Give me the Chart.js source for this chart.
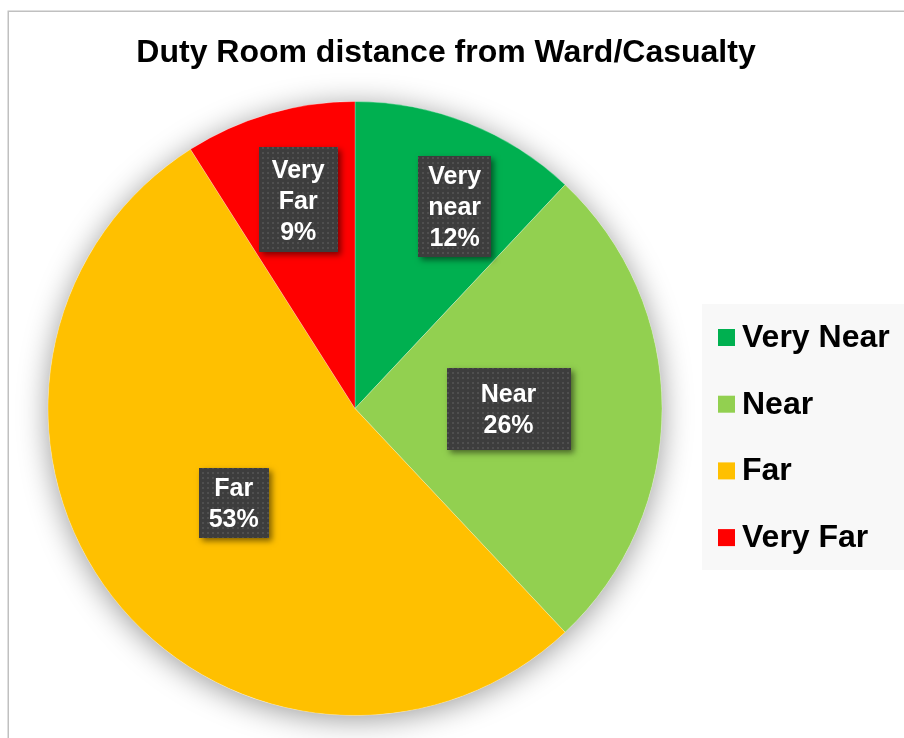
<!DOCTYPE html>
<html>
<head>
<meta charset="utf-8">
<script src="https://cdn.jsdelivr.net/npm/chart.js@4.4.1/dist/chart.umd.min.js"></script>
<style>
  html, body { margin: 0; padding: 0; background: #ffffff; }
  #wrap { position: relative; width: 904px; height: 738px; overflow: hidden; }
  canvas { display: block; }
</style>
</head>
<body>
<div id="wrap"><canvas id="c" width="904" height="738"></canvas></div>
<script>
// ---- data ----
const chartTitle = 'Duty Room distance from Ward/Casualty';
const categories = ['Very Near', 'Near', 'Far', 'Very Far'];
const sliceLabels = ['Very near', 'Near', 'Far', 'Very Far'];
const percentages = [12, 26, 53, 9];

// ---- styles ----
const sliceColors = ['#00B050', '#92D050', '#FFC000', '#FF0000'];
const labelRadiusFrac = [0.735, 0.5, 0.5, 0.705];
const labelAngleShiftDeg = [4.6, 0, 0, 1];
const labelPadX = [10, 34, 10, 13];
const labelPadY = [4, 10, 4, 6];
const FONT = '"Liberation Sans", Arial, Helvetica, sans-serif';

function makePattern(ctx) {
  const t = document.createElement('canvas');
  t.width = 5; t.height = 5;
  const g = t.getContext('2d');
  g.fillStyle = '#3d3d3d';
  g.fillRect(0, 0, 5, 5);
  g.fillStyle = '#4f4f4f';
  g.fillRect(2, 2, 2, 2);
  return ctx.createPattern(t, 'repeat');
}

const decorPlugin = {
  id: 'decor',
  beforeDraw(chart) {
    const ctx = chart.ctx;
    ctx.save();
    ctx.fillStyle = '#ffffff';
    ctx.fillRect(0, 0, chart.width, chart.height);
    // frame
    ctx.strokeStyle = '#c0c0c0';
    ctx.lineWidth = 1.5;
    ctx.strokeRect(8.25, 11.25, 2000, 2000);
    // title
    ctx.fillStyle = '#000000';
    ctx.font = 'bold 32px ' + FONT;
    ctx.textAlign = 'center';
    ctx.textBaseline = 'alphabetic';
    ctx.fillText(chartTitle, 446, 62);
    // legend
    ctx.fillStyle = '#f8f8f8';
    ctx.fillRect(702, 304, 220, 266);
    ctx.font = 'bold 32px ' + FONT;
    ctx.textAlign = 'left';
    categories.forEach((name, i) => {
      const base = 347 + i * 66.7;
      ctx.fillStyle = sliceColors[i];
      ctx.fillRect(718, base - 18, 17, 17);
      ctx.fillStyle = '#000000';
      ctx.fillText(name, 742, base);
    });
    ctx.restore();
  },
  beforeDatasetsDraw(chart) {
    const meta = chart.getDatasetMeta(0);
    if (!meta.data.length) return;
    const a = meta.data[0];
    const ctx = chart.ctx;
    ctx.save();
    ctx.shadowColor = 'rgba(0,0,0,0.4)';
    ctx.shadowBlur = 30;
    ctx.shadowOffsetX = 0;
    ctx.shadowOffsetY = 4;
    ctx.fillStyle = '#ffffff';
    ctx.beginPath();
    ctx.arc(a.x, a.y, a.outerRadius, 0, Math.PI * 2);
    ctx.fill();
    ctx.restore();
  },
  afterDatasetsDraw(chart) {
    const meta = chart.getDatasetMeta(0);
    const ctx = chart.ctx;
    const pattern = makePattern(ctx);
    const lineH = 31;
    ctx.save();
    ctx.font = 'bold 25px ' + FONT;
    meta.data.forEach((arc, i) => {
      const p = arc.getProps(['x', 'y', 'startAngle', 'endAngle', 'outerRadius'], true);
      const mid = (p.startAngle + p.endAngle) / 2 + labelAngleShiftDeg[i] * Math.PI / 180;
      const r = p.outerRadius * labelRadiusFrac[i];
      const cx = p.x + Math.cos(mid) * r;
      const cy = p.y + Math.sin(mid) * r;
      const lines = sliceLabels[i].split(' ').concat([percentages[i] + '%']);
      let tw = 0;
      lines.forEach(l => { tw = Math.max(tw, ctx.measureText(l).width); });
      const w = Math.round(tw + 2 * labelPadX[i]);
      const h = Math.round(lines.length * lineH + 2 * labelPadY[i]);
      const x0 = Math.round(cx - w / 2), y0 = Math.round(cy - h / 2);
      ctx.save();
      ctx.shadowColor = 'rgba(0,0,0,0.5)';
      ctx.shadowBlur = 6;
      ctx.shadowOffsetX = 3;
      ctx.shadowOffsetY = 3;
      ctx.fillStyle = '#3d3d3d';
      ctx.fillRect(x0, y0, w, h);
      ctx.restore();
      ctx.fillStyle = pattern;
      ctx.fillRect(x0, y0, w, h);
      ctx.fillStyle = '#ffffff';
      ctx.textAlign = 'center';
      ctx.textBaseline = 'alphabetic';
      const firstBase = cy - (lines.length * lineH) / 2 + lineH / 2 + 9;
      lines.forEach((l, k) => ctx.fillText(l, cx, firstBase + k * lineH));
    });
    ctx.restore();
  }
};

new Chart(document.getElementById('c'), {
  type: 'pie',
  data: {
    labels: categories,
    datasets: [{
      data: percentages,
      backgroundColor: sliceColors,
      borderColor: 'rgba(255,255,255,0.25)',
      borderWidth: 1,
      hoverOffset: 0,
      offset: 0
    }]
  },
  options: {
    responsive: false,
    devicePixelRatio: 1,
    animation: false,
    events: [],
    layout: { padding: { left: 47, right: 241, top: 101, bottom: 22 } },
    plugins: {
      legend: { display: false },
      title: { display: false },
      tooltip: { enabled: false }
    }
  },
  plugins: [decorPlugin]
});
</script>
</body>
</html>
